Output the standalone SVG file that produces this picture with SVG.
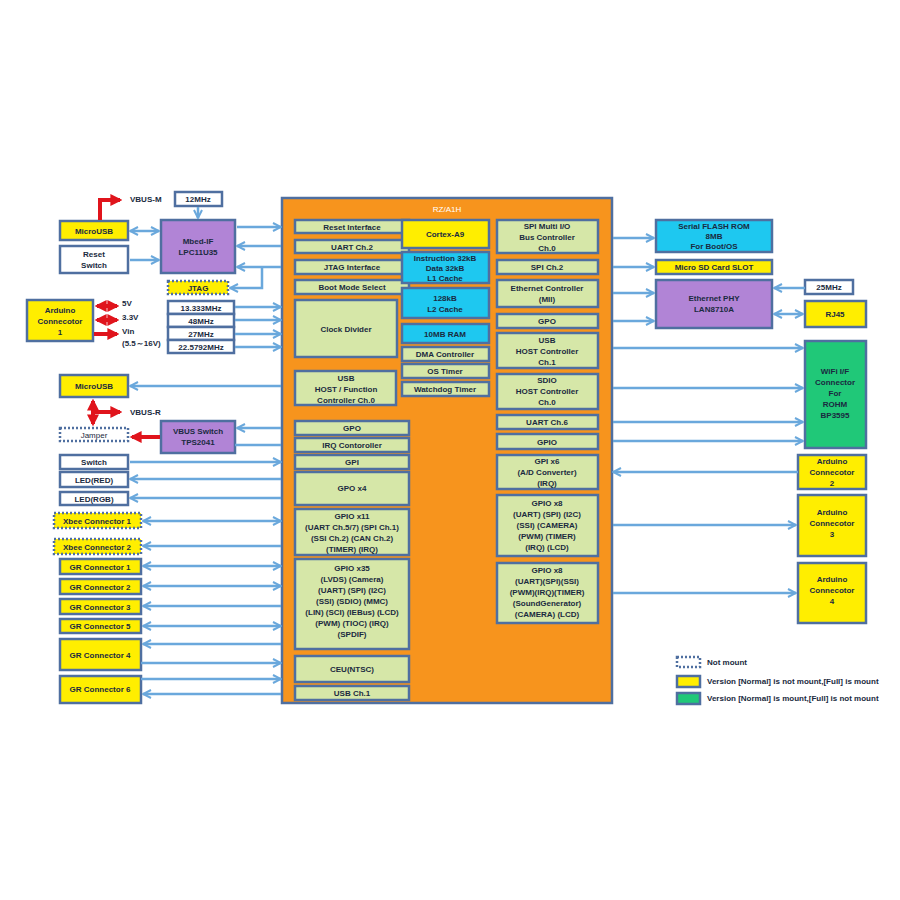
<svg xmlns="http://www.w3.org/2000/svg" width="900" height="900" viewBox="0 0 900 900">
<style>
text{font-family:"Liberation Sans",Arial,sans-serif;font-weight:bold;font-size:8px;fill:#1a2a40;text-anchor:middle}
.b{stroke:#4f6fa0;stroke-width:2.5}
.g{fill:#d6e7a8}.y{fill:#ffee00}.c{fill:#1ec8f0}.p{fill:#b184d6}.w{fill:#fff}.gr{fill:#20c878}
.d{stroke-dasharray:2 2;stroke:#4f6fa0;stroke-width:2.5}
.l{stroke:#6aa8dc;stroke-width:2.5;fill:none}
.r{stroke:#e0141c;stroke-width:4;fill:none}
.lt{text-anchor:start}
</style>
<defs>
<marker id="a" viewBox="0 0 10 10" refX="9" refY="5" markerWidth="4" markerHeight="4" orient="auto-start-reverse"><path d="M1,1 L9,5 L1,9" fill="none" stroke="#6aa8dc" stroke-width="2"/></marker>
<marker id="ra" viewBox="0 0 10 10" refX="8" refY="5" markerWidth="3" markerHeight="3" orient="auto-start-reverse"><path d="M0,0 L10,5 L0,10z" fill="#e0141c"/></marker>
</defs>
<rect width="900" height="900" fill="#fff"/>
<g id="chip">
<rect x="282" y="198" width="330" height="505" fill="#f7941d" class="b"/>
<text x="447" y="212" style="fill:#fff;font-weight:normal">RZ/A1H</text>
</g>
<g id="chip-left">
<rect x="295" y="220" width="114" height="13" class="g b"/><text x="352" y="230">Reset Interface</text>
<rect x="295" y="240" width="114" height="13" class="g b"/><text x="352" y="250">UART Ch.2</text>
<rect x="295" y="260" width="114" height="14" class="g b"/><text x="352" y="270">JTAG Interface</text>
<rect x="295" y="280" width="114" height="14" class="g b"/><text x="352" y="290">Boot Mode Select</text>
<rect x="295" y="300" width="102" height="57" class="g b"/><text x="346" y="332">Clock Divider</text>
<rect x="295" y="371" width="101" height="34" class="g b"/><text x="346" y="381">USB</text><text x="346" y="392">HOST / Function</text><text x="346" y="403">Controller Ch.0</text>
<rect x="295" y="421" width="114" height="14" class="g b"/><text x="352" y="431">GPO</text>
<rect x="295" y="438" width="114" height="14" class="g b"/><text x="352" y="448">IRQ Contoroller</text>
<rect x="295" y="455" width="114" height="14" class="g b"/><text x="352" y="465">GPI</text>
<rect x="295" y="472" width="114" height="33" class="g b"/><text x="352" y="491">GPO x4</text>
<rect x="295" y="509" width="114" height="46" class="g b"/><text x="352" y="519">GPIO x11</text><text x="352" y="530">(UART Ch.5/7) (SPI Ch.1)</text><text x="352" y="541">(SSI Ch.2) (CAN Ch.2)</text><text x="352" y="552">(TIMER) (IRQ)</text>
<rect x="295" y="559" width="114" height="90" class="g b"/><text x="352" y="571">GPIO x35</text><text x="352" y="582">(LVDS) (Camera)</text><text x="352" y="593">(UART) (SPI) (I2C)</text><text x="352" y="604">(SSI) (SDIO) (MMC)</text><text x="352" y="615">(LIN) (SCI) (IEBus) (LCD)</text><text x="352" y="626">(PWM) (TIOC) (IRQ)</text><text x="352" y="637">(SPDIF)</text>
<rect x="295" y="656" width="114" height="26" class="g b"/><text x="352" y="672">CEU(NTSC)</text>
<rect x="295" y="686" width="114" height="14" class="g b"/><text x="352" y="696">USB Ch.1</text>
</g>
<g id="chip-mid">
<rect x="402" y="220" width="87" height="28" class="y b"/><text x="445" y="237">Cortex-A9</text>
<rect x="402" y="252" width="87" height="31" class="c b"/><text x="445" y="261">Instruction 32kB</text><text x="445" y="271">Data 32kB</text><text x="445" y="281">L1 Cache</text>
<rect x="402" y="288" width="87" height="30" class="c b"/><text x="445" y="301">128kB</text><text x="445" y="312">L2 Cache</text>
<rect x="402" y="324" width="87" height="19" class="c b"/><text x="445" y="337">10MB RAM</text>
<rect x="402" y="347" width="87" height="14" class="g b"/><text x="445" y="357">DMA Controller</text>
<rect x="402" y="364" width="87" height="14" class="g b"/><text x="445" y="374">OS Timer</text>
<rect x="402" y="382" width="87" height="14" class="g b"/><text x="445" y="392">Watchdog Timer</text>
</g>
<g id="chip-right">
<rect x="497" y="220" width="101" height="33" class="g b"/><text x="547" y="229">SPI Multi I/O</text><text x="547" y="240">Bus Controller</text><text x="547" y="251">Ch.0</text>
<rect x="497" y="260" width="101" height="14" class="g b"/><text x="547" y="270">SPI Ch.2</text>
<rect x="497" y="280" width="101" height="27" class="g b"/><text x="547" y="291">Ethernet Controller</text><text x="547" y="302">(MII)</text>
<rect x="497" y="314" width="101" height="14" class="g b"/><text x="547" y="324">GPO</text>
<rect x="497" y="333" width="101" height="35" class="g b"/><text x="547" y="343">USB</text><text x="547" y="354">HOST Controller</text><text x="547" y="365">Ch.1</text>
<rect x="497" y="374" width="101" height="35" class="g b"/><text x="547" y="383">SDIO</text><text x="547" y="394">HOST Controller</text><text x="547" y="405">Ch.0</text>
<rect x="497" y="415" width="101" height="14" class="g b"/><text x="547" y="425">UART Ch.6</text>
<rect x="497" y="434" width="101" height="15" class="g b"/><text x="547" y="445">GPIO</text>
<rect x="497" y="455" width="101" height="34" class="g b"/><text x="547" y="464">GPI x6</text><text x="547" y="475">(A/D Converter)</text><text x="547" y="486">(IRQ)</text>
<rect x="497" y="495" width="101" height="61" class="g b"/><text x="547" y="506">GPIO x8</text><text x="547" y="517">(UART) (SPI) (I2C)</text><text x="547" y="528">(SSI) (CAMERA)</text><text x="547" y="539">(PWM) (TIMER)</text><text x="547" y="550">(IRQ) (LCD)</text>
<rect x="497" y="563" width="101" height="60" class="g b"/><text x="547" y="573">GPIO x8</text><text x="547" y="584">(UART)(SPI)(SSI)</text><text x="547" y="595">(PWM)(IRQ)(TIMER)</text><text x="547" y="606">(SoundGenerator)</text><text x="547" y="617">(CAMERA) (LCD)</text>
</g>
<g id="left-ext">
<rect x="60" y="221" width="68" height="19" class="y b"/><text x="94" y="234">MicroUSB</text>
<rect x="60" y="246" width="68" height="27" class="w b"/><text x="94" y="257">Reset</text><text x="94" y="268">Switch</text>
<rect x="161" y="220" width="74" height="53" class="p b"/><text x="198" y="244">Mbed-IF</text><text x="198" y="255">LPC11U35</text>
<rect x="175" y="192" width="47" height="14" class="w b"/><text x="198" y="202">12MHz</text>
<rect x="168" y="281" width="60" height="13" class="y d"/><text x="198" y="291">JTAG</text>
<rect x="27" y="300" width="66" height="41" class="y b"/><text x="60" y="313">Arduino</text><text x="60" y="324">Connecotor</text><text x="60" y="335">1</text>
<text x="122" y="306" class="lt">5V</text><text x="122" y="320" class="lt">3.3V</text><text x="122" y="334" class="lt">Vin</text><text x="122" y="346" class="lt">(5.5～16V)</text>
<rect x="168" y="301" width="66" height="13" class="w b"/><text x="201" y="311">13.333MHz</text>
<rect x="168" y="314" width="66" height="13" class="w b"/><text x="201" y="324">48MHz</text>
<rect x="168" y="327" width="66" height="13" class="w b"/><text x="201" y="337">27MHz</text>
<rect x="168" y="340" width="66" height="13" class="w b"/><text x="201" y="350">22.5792MHz</text>
<rect x="60" y="375" width="68" height="22" class="y b"/><text x="94" y="389">MicroUSB</text>
<text x="130" y="415" class="lt">VBUS-R</text><text x="130" y="202" class="lt">VBUS-M</text>
<rect x="60" y="428" width="68" height="13" class="w d"/><text x="94" y="438" style="font-weight:normal">Jamper</text>
<rect x="161" y="421" width="74" height="32" class="p b"/><text x="198" y="434">VBUS Switch</text><text x="198" y="445">TPS2041</text>
<rect x="60" y="455" width="68" height="14" class="w b"/><text x="94" y="465">Switch</text>
<rect x="60" y="472" width="68" height="15" class="w b"/><text x="94" y="483">LED(RED)</text>
<rect x="60" y="492" width="68" height="13" class="w b"/><text x="94" y="502">LED(RGB)</text>
<rect x="54" y="513" width="87" height="15" class="y d"/><text x="97" y="524">Xbee Connector 1</text>
<rect x="54" y="539" width="87" height="15" class="y d"/><text x="97" y="550">Xbee Connector 2</text>
<rect x="60" y="559" width="81" height="15" class="y b"/><text x="100" y="570">GR Connector 1</text>
<rect x="60" y="579" width="81" height="15" class="y b"/><text x="100" y="590">GR Connector 2</text>
<rect x="60" y="599" width="81" height="15" class="y b"/><text x="100" y="610">GR Connector 3</text>
<rect x="60" y="619" width="81" height="14" class="y b"/><text x="100" y="629">GR Connector 5</text>
<rect x="60" y="639" width="81" height="31" class="y b"/><text x="100" y="658">GR Connector 4</text>
<rect x="60" y="676" width="81" height="27" class="y b"/><text x="100" y="692">GR Connector 6</text>
</g>
<g id="right-ext">
<rect x="656" y="220" width="116" height="32" class="c b"/><text x="714" y="229">Serial FLASH ROM</text><text x="714" y="239">8MB</text><text x="714" y="249">For Boot/OS</text>
<rect x="656" y="260" width="116" height="14" class="y b"/><text x="714" y="270">Micro SD Card SLOT</text>
<rect x="656" y="280" width="116" height="48" class="p b"/><text x="714" y="301">Ethernet PHY</text><text x="714" y="312">LAN8710A</text>
<rect x="805" y="280" width="48" height="14" class="w b"/><text x="829" y="290">25MHz</text>
<rect x="805" y="301" width="61" height="26" class="y b"/><text x="835" y="317">RJ45</text>
<rect x="805" y="341" width="61" height="107" class="gr b"/><text x="835" y="374">WiFi I/F</text><text x="835" y="385">Connector</text><text x="835" y="396">For</text><text x="835" y="407">ROHM</text><text x="835" y="418">BP3595</text>
<rect x="798" y="455" width="68" height="34" class="y b"/><text x="832" y="464">Arduino</text><text x="832" y="475">Connecotor</text><text x="832" y="486">2</text>
<rect x="798" y="495" width="68" height="61" class="y b"/><text x="832" y="515">Arduino</text><text x="832" y="526">Connecotor</text><text x="832" y="537">3</text>
<rect x="798" y="563" width="68" height="60" class="y b"/><text x="832" y="582">Arduino</text><text x="832" y="593">Connecotor</text><text x="832" y="604">4</text>
</g>
<g id="legend">
<rect x="677" y="657" width="23" height="10" class="w d"/><text x="707" y="665" class="lt">Not mount</text>
<rect x="677" y="676" width="23" height="11" class="y b"/><text x="707" y="684" class="lt">Version [Normal] is not mount,[Full] is mount</text>
<rect x="677" y="693" width="23" height="11" class="gr b"/><text x="707" y="701" class="lt">Version [Normal] is mount,[Full] is not mount</text>
</g>
<g id="connectors">
<path class="l" d="M130,231H159" marker-start="url(#a)" marker-end="url(#a)"/>
<path class="l" d="M130,260H159" marker-end="url(#a)"/>
<path class="l" d="M198,207V218" marker-end="url(#a)"/>
<path class="l" d="M237,227H281" marker-end="url(#a)"/>
<path class="l" d="M281,246H237" marker-end="url(#a)"/>
<path class="l" d="M281,267H237" marker-end="url(#a)"/>
<path class="l" d="M262,267V288H230" marker-end="url(#a)"/>
<path class="l" d="M235,307H281" marker-end="url(#a)"/>
<path class="l" d="M235,320H281" marker-end="url(#a)"/>
<path class="l" d="M235,334H281" marker-end="url(#a)"/>
<path class="l" d="M235,347H281" marker-end="url(#a)"/>
<path class="l" d="M281,386H130" marker-end="url(#a)"/>
<path class="l" d="M281,428H237" marker-end="url(#a)"/>
<path class="l" d="M235,445H281"/>
<path class="l" d="M130,462H281" marker-end="url(#a)"/>
<path class="l" d="M281,479H130" marker-end="url(#a)"/>
<path class="l" d="M281,498H130" marker-end="url(#a)"/>
<path class="l" d="M143,521H281" marker-start="url(#a)" marker-end="url(#a)"/>
<path class="l" d="M281,546H143" marker-end="url(#a)"/>
<path class="l" d="M143,566H281" marker-start="url(#a)" marker-end="url(#a)"/>
<path class="l" d="M143,586H281" marker-start="url(#a)" marker-end="url(#a)"/>
<path class="l" d="M281,606H143" marker-end="url(#a)"/>
<path class="l" d="M143,626H281" marker-start="url(#a)" marker-end="url(#a)"/>
<path class="l" d="M281,644H143" marker-end="url(#a)"/>
<path class="l" d="M141,663H281" marker-end="url(#a)"/>
<path class="l" d="M141,679H281" marker-end="url(#a)"/>
<path class="l" d="M281,694H143" marker-end="url(#a)"/>
<path class="l" d="M613,238H654" marker-end="url(#a)"/>
<path class="l" d="M613,267H654" marker-end="url(#a)"/>
<path class="l" d="M613,293H654" marker-end="url(#a)"/>
<path class="l" d="M613,321H654" marker-end="url(#a)"/>
<path class="l" d="M805,288H774" marker-end="url(#a)"/>
<path class="l" d="M774,314H803" marker-start="url(#a)" marker-end="url(#a)"/>
<path class="l" d="M613,348H803" marker-end="url(#a)"/>
<path class="l" d="M613,388H803" marker-end="url(#a)"/>
<path class="l" d="M613,422H803" marker-end="url(#a)"/>
<path class="l" d="M613,441H803" marker-end="url(#a)"/>
<path class="l" d="M798,472H613" marker-end="url(#a)"/>
<path class="l" d="M613,525H796" marker-end="url(#a)"/>
<path class="l" d="M613,593H796" marker-end="url(#a)"/>
<path class="r" d="M100,220V200H120" marker-end="url(#ra)"/>
<path class="r" d="M97,306H117" marker-start="url(#ra)" marker-end="url(#ra)"/>
<path class="r" d="M97,320H117" marker-start="url(#ra)" marker-end="url(#ra)"/>
<path class="r" d="M94,334H117" marker-end="url(#ra)"/>
<path class="r" d="M93,401V424" marker-start="url(#ra)" marker-end="url(#ra)"/>
<path class="r" d="M93,412H120" marker-end="url(#ra)"/>
<path class="r" d="M160,437H132" marker-end="url(#ra)"/>
</g>
</svg>
